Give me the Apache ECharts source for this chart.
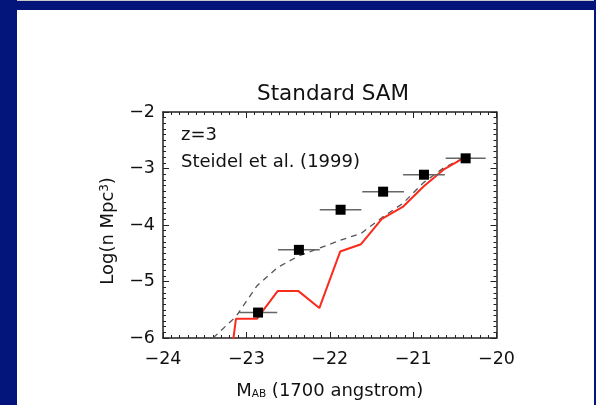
<!DOCTYPE html>
<html><head><meta charset="utf-8">
<script src="https://cdn.jsdelivr.net/npm/echarts@6/dist/echarts.min.js"></script>
<style>
html,body{margin:0;padding:0;background:#fff;}
#wrap{position:relative;width:596px;height:405px;overflow:hidden;background:#fff;}
#chart{position:absolute;left:0;top:0;width:596px;height:405px;}
.b{position:absolute;background:#03147a;}
</style></head><body>
<div id="wrap">
<div class="b" style="left:0;top:0;width:17px;height:405px"></div>
<div class="b" style="left:0;top:1px;width:596px;height:9px"></div>
<div style="position:absolute;left:17px;top:0;width:579px;height:1px;background:#c8c8c8"></div>
<div class="b" style="left:594px;top:0;width:2px;height:405px"></div>
<div id="chart"></div>
</div>
<script>
// Observations: Steidel et al. (1999)
const obsMag = [-22.86, -22.37, -21.87, -21.36, -20.87, -20.37];
const obsLogN = [-5.55, -4.44, -3.73, -3.41, -3.11, -2.82];
const obsMagErr = [0.23, 0.25, 0.25, 0.25, 0.25, 0.24];
// Standard SAM model (red)
const samMag = [-23.375, -23.125, -22.875, -22.625, -22.375, -22.125, -21.875, -21.625, -21.375, -21.125, -20.875, -20.625, -20.375];
const samLogN = [-8.5, -5.66, -5.66, -5.17, -5.17, -5.47, -4.47, -4.34, -3.89, -3.68, -3.32, -3.01, -2.80];
// Dashed model
const dashMag = [-23.40, -23.125, -22.875, -22.625, -22.375, -22.125, -21.875, -21.625, -21.375, -21.125, -20.875, -20.625, -20.375];
const dashLogN = [-6.0, -5.62, -5.08, -4.75, -4.55, -4.41, -4.27, -4.15, -3.87, -3.62, -3.25, -2.98, -2.80];
// Axes
const xRange = [-24, -20];
const yRange = [-6, -2];
const titleText = 'Standard SAM';
const zLabel = 'z=3';
const obsLabel = 'Steidel et al. (1999)';

const FONT = 'DejaVu Sans';
const TXT = '#111';
const fmt = v => String(v).replace('-', '\u2212');

function axisBase(extra) {
  return Object.assign({
    type: 'value',
    interval: 1,
    axisLine: { show: true, onZero: false, lineStyle: { color: '#222', width: 1.5 } },
    axisTick: { show: true, inside: true, length: 6, lineStyle: { color: '#222', width: 1 } },
    minorTick: { show: true, splitNumber: 10, length: 3, lineStyle: { color: '#222', width: 1 } },
    splitLine: { show: false },
    minorSplitLine: { show: false }
  }, extra);
}

const chart = echarts.init(document.getElementById('chart'), null, { renderer: 'canvas' });
chart.setOption({
  animation: false,
  backgroundColor: 'transparent',
  grid: { left: 163, top: 112, width: 333.5, height: 235, containLabel: false },
  xAxis: [
    axisBase({
      min: xRange[0], max: xRange[1], position: 'bottom',
      axisLabel: { show: true, margin: 12, color: TXT, fontFamily: FONT, fontSize: 17.5, formatter: fmt },
      name: '{m|M}{s|AB}{m| (1700 angstrom)}',
      nameLocation: 'middle', nameGap: 44,
      nameTextStyle: {
        rich: {
          m: { fontFamily: FONT, fontSize: 18, color: TXT, verticalAlign: 'bottom' },
          s: { fontFamily: FONT, fontSize: 10.5, color: TXT, verticalAlign: 'bottom' }
        }
      }
    }),
    axisBase({ min: xRange[0], max: xRange[1], position: 'top', axisLabel: { show: false } })
  ],
  yAxis: [
    axisBase({
      min: yRange[0], max: yRange[1], position: 'left',
      axisLabel: { show: true, margin: 8, color: TXT, fontFamily: FONT, fontSize: 17.5, formatter: fmt },
      name: '{m|Log(n Mpc}{s|3}{m|)}',
      nameLocation: 'middle', nameGap: 46,
      nameTextStyle: {
        padding: [0, 12, 0, 0],
        rich: {
          m: { fontFamily: FONT, fontSize: 18, color: TXT, verticalAlign: 'top' },
          s: { fontFamily: FONT, fontSize: 11.5, color: TXT, verticalAlign: 'top' }
        }
      }
    }),
    axisBase({ min: yRange[0], max: yRange[1], position: 'right', axisLabel: { show: false } })
  ],
  graphic: [
    { type: 'text', x: 333, y: 94, style: { text: titleText, fontFamily: FONT, fontSize: 21.5, fill: TXT, textAlign: 'center', textVerticalAlign: 'middle' } },
    { type: 'text', x: 181, y: 135, style: { text: zLabel, fontFamily: FONT, fontSize: 18, fill: TXT, textVerticalAlign: 'middle' } },
    { type: 'text', x: 181, y: 162, style: { text: obsLabel, fontFamily: FONT, fontSize: 18, fill: TXT, textVerticalAlign: 'middle' } }
  ],
  series: [
    {
      type: 'line', name: 'dashed model', xAxisIndex: 0, yAxisIndex: 0, clip: true,
      data: dashMag.map((m, i) => [m, dashLogN[i]]),
      showSymbol: false, symbol: 'none',
      lineStyle: { color: '#555', width: 1.3, type: [6, 5] }, z: 2
    },
    {
      type: 'line', name: 'Standard SAM', xAxisIndex: 0, yAxisIndex: 0, clip: true,
      data: samMag.map((m, i) => [m, samLogN[i]]),
      showSymbol: false, symbol: 'none',
      lineStyle: { color: '#fa2a1c', width: 2 }, z: 3
    },
    {
      type: 'custom', name: 'errors', xAxisIndex: 0, yAxisIndex: 0,
      data: obsMag.map((m, i) => [m, obsLogN[i], obsMagErr[i]]),
      encode: { x: 0, y: 1 },
      renderItem: function (params, api) {
        const x = api.value(0), y = api.value(1), e = api.value(2);
        const p1 = api.coord([x - e, y]);
        const p2 = api.coord([x + e, y]);
        return { type: 'line', shape: { x1: p1[0], y1: p1[1], x2: p2[0], y2: p2[1] }, style: { stroke: '#666', lineWidth: 1.5 } };
      },
      z: 4
    },
    {
      type: 'scatter', name: 'Steidel et al. (1999)', xAxisIndex: 0, yAxisIndex: 0,
      data: obsMag.map((m, i) => [m, obsLogN[i]]),
      symbol: 'rect', symbolSize: 10,
      itemStyle: { color: '#000', opacity: 1 }, z: 5
    }
  ]
});
</script>
</body></html>
